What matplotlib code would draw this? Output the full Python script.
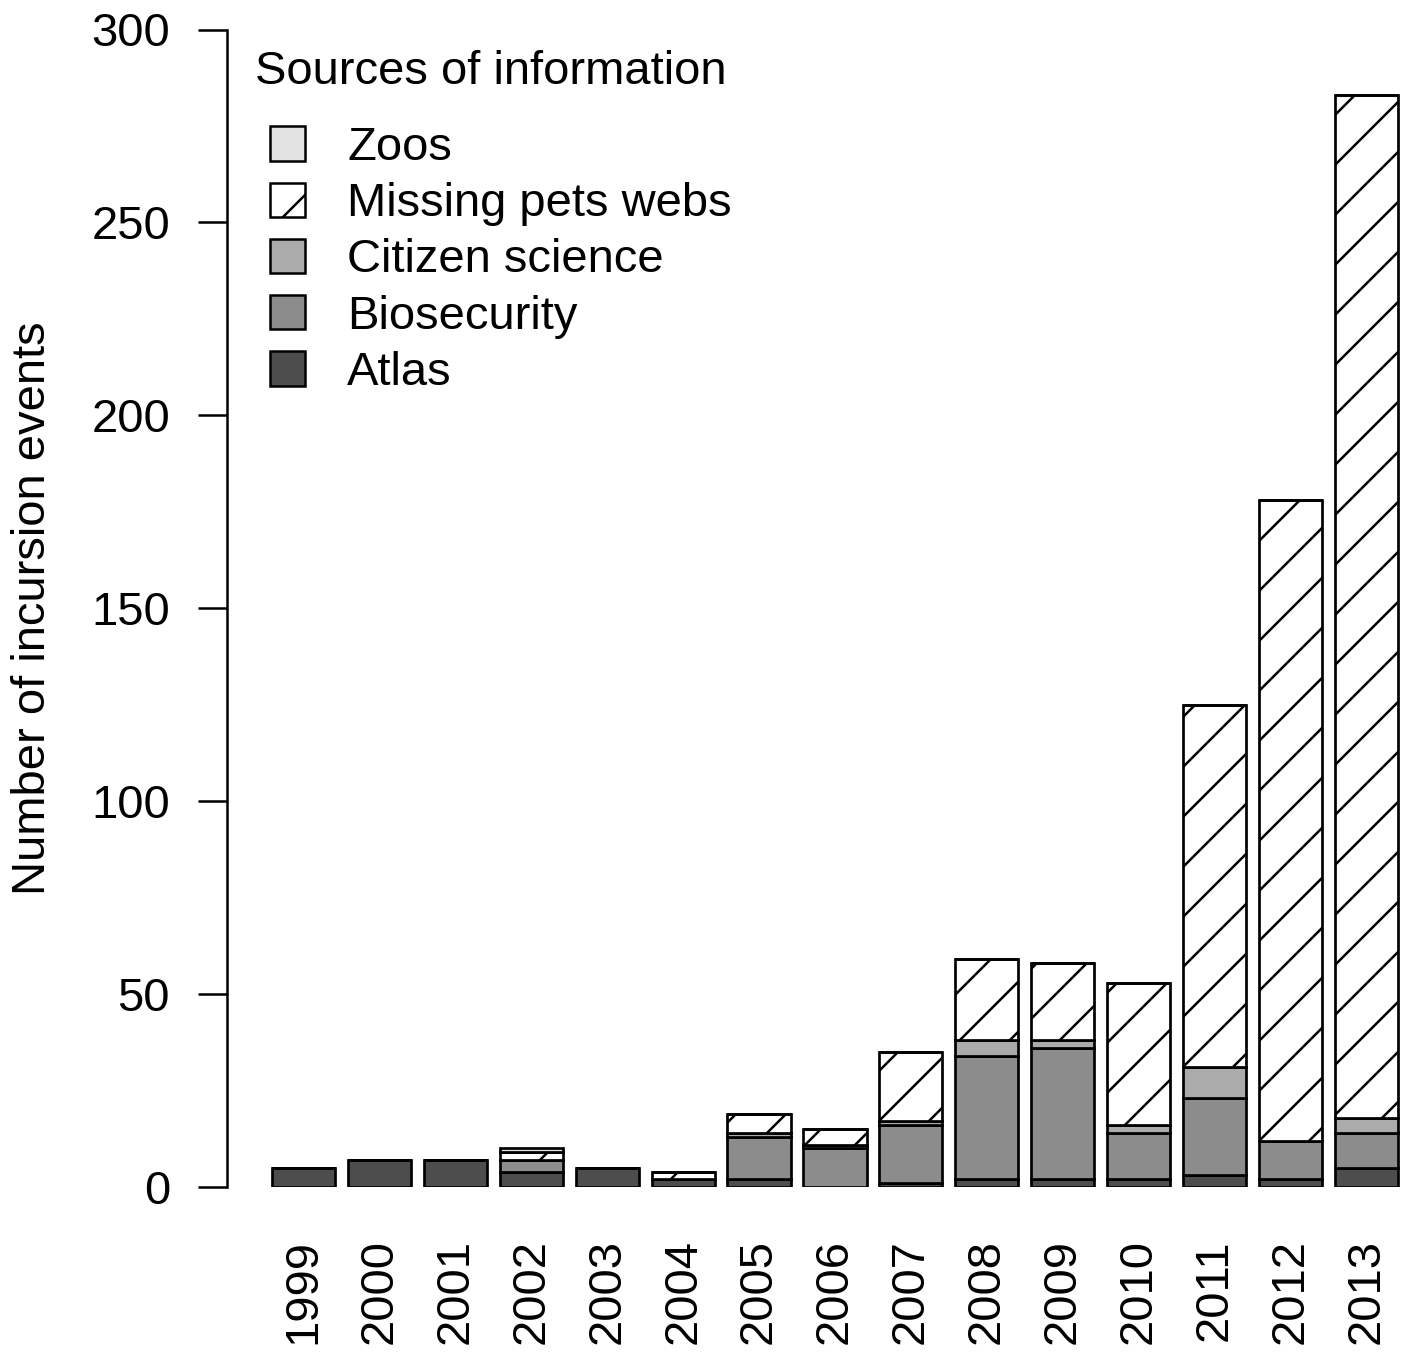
import matplotlib
matplotlib.use("Agg")
import matplotlib.pyplot as plt
from matplotlib.patches import Patch
import numpy as np

years = [str(y) for y in range(1999, 2014)]
atlas = [5, 7, 7, 4, 5, 2, 2, 0, 1, 2, 2, 2, 3, 2, 5]
biosecurity = [0, 0, 0, 3, 0, 0, 11, 10, 15, 32, 34, 12, 20, 10, 9]
citizen = [0, 0, 0, 0, 0, 0, 1, 1, 1, 4, 2, 2, 8, 0, 4]
missing_pets = [0, 0, 0, 2, 0, 2, 5, 4, 18, 21, 20, 37, 94, 166, 265]
zoos = [0, 0, 0, 1, 0, 0, 0, 0, 0, 0, 0, 0, 0, 0, 0]

series_names = ["Atlas", "Biosecurity", "Citizen science", "Missing pets webs", "Zoos"]
series_vals = [atlas, biosecurity, citizen, missing_pets, zoos]
colors = ["#4d4d4d", "#8c8c8c", "#ababab", "#ffffff", "#e3e3e3"]
hatches = [None, None, None, "//", None]

plt.rcParams["font.family"] = ["Liberation Sans", "DejaVu Sans"]
plt.rcParams["hatch.linewidth"] = 0.6
plt.rcParams["hatch.color"] = "black"

DPI = 300
W, H = 1408, 1354
FS = 11.3
fig = plt.figure(figsize=(W / DPI, H / DPI), dpi=DPI)

# axes placement (pixels)
ax_left, ax_right = 227, 1408
ax_top, ax_bottom = 29.5, 1187
ax = fig.add_axes([ax_left / W, 1 - ax_bottom / H,
                   (ax_right - ax_left) / W, (ax_bottom - ax_top) / H])

unit = 63.25
x0 = 0.2 - (272 - ax_left) / unit
x1 = 0.2 + (ax_right - 272) / unit
ax.set_xlim(x0, x1)
ax.set_ylim(0, 300)

xpos = 0.7 + 1.2 * np.arange(len(years))
bottom = np.zeros(len(years))
for name, vals, c, h in zip(series_names, series_vals, colors, hatches):
    v = np.array(vals, dtype=float)
    ax.bar(xpos, v, width=1.0, bottom=bottom, color=c, edgecolor="black",
           linewidth=0.65, hatch=h, label=name)
    bottom += v

for s in ["top", "right", "bottom"]:
    ax.spines[s].set_visible(False)
ax.spines["left"].set_linewidth(0.6)
ax.spines["left"].set_bounds(0, 300)

ax.set_yticks([0, 50, 100, 150, 200, 250, 300])
ax.tick_params(axis="y", length=7, width=0.6, pad=6.7, labelsize=FS)
ax.set_xticks(xpos)
ax.set_xticklabels(years, rotation=90, va="top", ha="center")
ax.tick_params(axis="x", length=0, pad=12.5, labelsize=FS)

fig.text(33 / W, 1 - 608 / H, "Number of incursion events", rotation=90,
         ha="center", va="center", fontsize=FS)

# legend
handles = [Patch(facecolor=c, edgecolor="black", linewidth=0.6, hatch=h, label=n)
           for n, c, h in zip(series_names, colors, hatches)][::-1]
fig.text(255 / W, 1 - 72 / H, "Sources of information", ha="left",
         va="center", fontsize=FS)
leg = ax.legend(handles=handles, loc="upper left", frameon=False,
                bbox_to_anchor=(270 / W, 1 - 126 / H),
                bbox_transform=fig.transFigure, borderpad=0, borderaxespad=0,
                fontsize=FS, handlelength=0.74, handleheight=0.74,
                handletextpad=0.9, labelspacing=0.26)

fig.savefig("out.png", dpi=DPI)
